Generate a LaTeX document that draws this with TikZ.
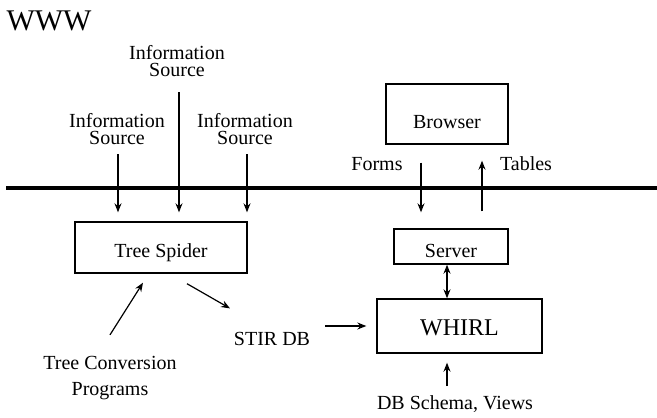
\documentclass[tikz,border=0pt]{standalone}
\usepackage{fontspec}
\setmainfont{Liberation Serif}
\usetikzlibrary{calc,arrows.meta}

\begin{document}
\begin{tikzpicture}[x=0.5pt,y=-0.5pt,>={Stealth[length=4.5pt,width=3.5pt,inset=1.5pt]},
		box/.style={draw,line width=0.7pt,inner sep=0pt,font=\fontsize{10}{12}\selectfont},
		lbl/.style={inner sep=0pt,align=center,font=\fontsize{10}{8.5}\selectfont},
		arr/.style={line width=0.6pt,->}]
		%%%%% START %%%%%
		
		\useasboundingbox (0,0) rectangle (657,417);
		
		\node[inner sep=0pt,font=\fontsize{15}{18}\selectfont] (www) at (49,21) {WWW};
		
		\node[lbl] (src2) at (177,61) {Information\\Source};
		\node[lbl] (src1) at (117,129) {Information\\Source};
		\node[lbl] (src3) at (245,129) {Information\\Source};
		
		\coordinate (webL) at (6,188);
		\coordinate (webR) at (657,188);
		\draw[line width=2.2pt] (webL) -- (webR);
		
		\node[box,minimum width=86pt,text height=17.5pt,text depth=8pt] (spider) at (161,247.5) {Tree Spider};
		\node[lbl,font=\fontsize{10}{13}\selectfont] (prog) at (110,378) {Tree Conversion\\Programs};
		\node[lbl] (stir) at (272,339) {STIR DB};
		
		\node[box,minimum width=61pt,text height=22pt,text depth=8pt] (browser) at (447,114) {Browser};
		\node[lbl] (forms) at (377,164) {Forms};
		\node[lbl] (tables) at (526,164) {Tables};
		\node[box,minimum width=57pt,text height=14pt,text depth=3.5pt] (server) at (451,246.5) {Server};
		\node[box,minimum width=82.5pt,text height=18pt,text depth=9pt,font=\fontsize{12}{14}\selectfont] (whirl) at (459.5,326) {WHIRL};
		\node[lbl] (schema) at (455,404) {DB Schema, Views};
		
		\draw[arr] ($(src1.south)+(1,9)$) -- ($(spider.north)+(-43,-9)$);
		\draw[arr] ($(src2.south)+(2,15)$) -- ($(spider.north)+(18,-9)$);
		\draw[arr] ($(src3.south)+(2,9)$) -- ($(spider.north)+(86,-9)$);
		
		\draw[arr] ($(prog.north)+(0,-21)$) -- ($(spider.south)+(-18,9)$);
		\draw[arr] ($(spider.south)+(26,10)$) -- ($(stir.north)+(-42,-23.5)$);
		\draw[arr] ($(stir.east |- whirl.west)+(15,0)$) -- ($(whirl.west)+(-10,0)$);
		
		\draw[arr] ($(browser.south)+(-26,18)$) -- ($(server.north)+(-30,-16)$);
		\draw[arr] ($(server.north)+(31,-17)$) -- ($(browser.south)+(35,16)$);
		\draw[arr,<->] ($(server.south)+(-4,0)$) -- ($(whirl.north)+(-12.5,0)$);
		\draw[arr] ($(schema.north)+(-8,-9)$) -- ($(whirl.south)+(-12.5,9)$);
		
		%%%%% END %%%%%
	\end{tikzpicture}
\end{document}
